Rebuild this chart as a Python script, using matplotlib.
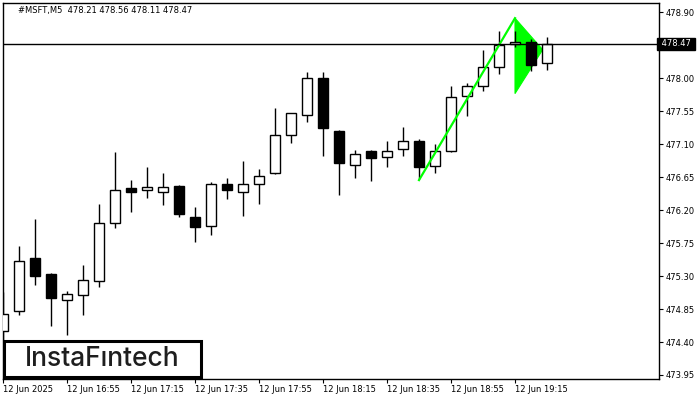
## Bullish pennant chart, MSFT M5

import numpy as np
import matplotlib
matplotlib.use('Agg')
import matplotlib.pyplot as plt
from matplotlib.patches import Rectangle, Polygon
import matplotlib.transforms as mtransforms

# Candle data (index = 5 min bars from 16:35)
opens = [474.55, 474.83, 475.54, 475.33, 474.98, 475.04, 475.23, 476.03, 476.50, 476.47,
         476.45, 476.53, 476.11, 475.99, 476.56, 476.45, 476.56, 476.71, 477.22, 477.50,
         478.00, 477.28, 476.82, 477.01, 476.93, 477.03, 477.15, 476.80, 477.01, 477.76,
         477.89, 478.16, 478.47, 478.50, 478.21]
highs = [475.08, 475.71, 476.08, 475.34, 475.09, 475.45, 476.28, 477.00, 476.61, 476.79,
         476.71, 476.54, 476.24, 476.58, 476.64, 476.87, 476.76, 477.59, 477.53, 478.09,
         478.08, 477.29, 477.02, 477.02, 477.15, 477.33, 477.17, 477.10, 477.89, 477.93,
         478.38, 478.65, 478.65, 478.54, 478.56]
lows = [474.30, 474.77, 475.18, 474.62, 474.49, 474.77, 475.15, 475.95, 476.18, 476.37,
        476.27, 476.11, 475.77, 475.86, 476.35, 476.12, 476.28, 476.69, 477.12, 477.40,
        476.94, 476.41, 476.64, 476.60, 476.79, 476.94, 476.62, 476.71, 477.00, 477.48,
        477.83, 478.06, 478.42, 478.10, 478.11]
closes = [474.78, 475.50, 475.30, 475.00, 475.05, 475.24, 476.02, 476.48, 476.45, 476.51,
          476.52, 476.15, 475.97, 476.55, 476.48, 476.56, 476.66, 477.23, 477.52, 478.01,
          477.32, 476.84, 476.96, 476.91, 477.01, 477.14, 476.79, 477.01, 477.75, 477.90,
          478.15, 478.46, 478.50, 478.18, 478.47]

x_tick_pos = [0, 4, 8, 12, 16, 20, 24, 28, 32]
x_tick_labels = ['12 Jun 2025', '12 Jun 16:55', '12 Jun 17:15', '12 Jun 17:35',
                 '12 Jun 17:55', '12 Jun 18:15', '12 Jun 18:35', '12 Jun 18:55',
                 '12 Jun 19:15']
y_ticks = [473.95, 474.40, 474.85, 475.30, 475.75, 476.20, 476.65, 477.10, 477.55, 478.00, 478.90]

last_price = 478.47
header = '#MSFT,M5  478.21 478.56 478.11 478.47'

# Pennant pattern: pole and flag
pole_x = [26, 32]
pole_y = [476.61, 478.82]
flag_x = [32, 32, 33.73]
flag_y = [478.82, 477.79, 478.39]

if __name__ == '__main__':
    plt.rcParams['font.family'] = 'DejaVu Sans'
    fig = plt.figure(figsize=(7, 4), dpi=100)
    ax = fig.add_axes([3/700, 1 - 378.5/400, 656/700, 375.5/400])

    n = len(opens)
    idx = np.arange(n)
    o = np.array(opens); c = np.array(closes)
    h = np.array(highs); l = np.array(lows)
    up = c >= o

    # wicks
    ax.vlines(idx, l, h, color='black', linewidth=1.0, zorder=3)
    # bodies
    bottoms = np.minimum(o, c)
    heights = np.maximum(np.abs(c - o), 0.01)
    ax.bar(idx, heights, bottom=bottoms, width=0.64,
           color=np.where(up, 'white', 'black'), edgecolor='black',
           linewidth=1.0, zorder=4)

    # pennant
    ax.add_patch(Polygon(np.column_stack([flag_x, flag_y]), closed=True,
                         facecolor='#00ff00', edgecolor='#00ff00', linewidth=0.8, zorder=2))
    ax.plot(pole_x, pole_y, color='#00ff00', linewidth=1.6, zorder=5)

    # last price line
    ax.axhline(last_price, color='black', linewidth=1.0, zorder=6)

    ax.set_xlim(0, 41)
    ax.set_ylim(473.902, 479.027)

    ax.yaxis.tick_right()
    ax.set_yticks(y_ticks)
    ax.set_yticklabels([f'{v:.2f}' for v in y_ticks])
    ax.set_xticks(x_tick_pos)
    ax.set_xticklabels(x_tick_labels)
    for lab in ax.get_xticklabels():
        lab.set_horizontalalignment('left')
    ax.tick_params(axis='both', labelsize=6, length=3, width=0.8, color='black',
                   labelcolor='black', pad=1.5)
    for sp in ax.spines.values():
        sp.set_linewidth(1.0)
        sp.set_color('black')

    # price label box on the axis
    trans = mtransforms.blended_transform_factory(ax.transAxes, ax.transData)
    ax.text(1.0, last_price, ' 478.47 ', transform=trans, ha='left', va='center',
            fontsize=6, color='white', clip_on=False, zorder=10,
            bbox=dict(boxstyle='square,pad=0.2', facecolor='black', edgecolor='black'))

    # header
    fig.text(18/700, 1 - 11/400, header, fontsize=6, ha='left', va='center', color='black')

    # logo box
    fig.patches.append(Rectangle((4/700, 1 - 377/400), 197/700, 36/400,
                                 transform=fig.transFigure, facecolor='white',
                                 edgecolor='black', linewidth=2.2, zorder=20))
    fig.text(102/700, 1 - 359.5/400, 'InstaF\u0131ntech', fontsize=19, family='Inter',
             fontweight='medium', color='#1e1e1e', ha='center', va='center', zorder=21)

    plt.savefig('out.png', dpi=100)
